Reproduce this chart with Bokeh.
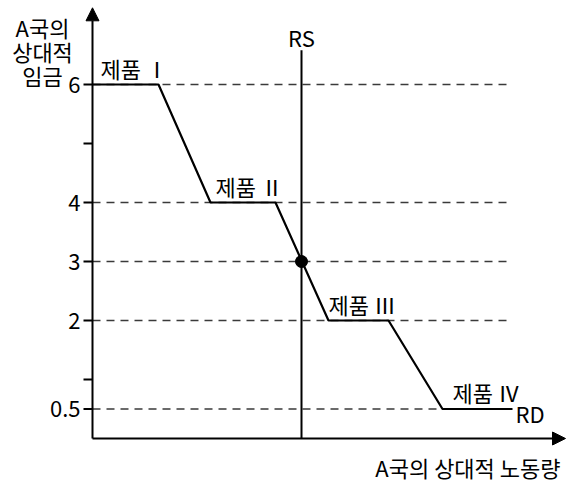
from bokeh.plotting import figure
from bokeh.models import Range1d, Arrow, NormalHead
from bokeh.core.properties import value
from bokeh.embed import file_html
from bokeh.resources import INLINE

# ---- data ----
rd_x = [0, 66, 118, 183, 236, 296, 350, 420]
rd_y = [6, 6, 4, 4, 2, 2, 0.5, 0.5]
rs_x = [209]
rs_top = [6.58]
eq_x = [209]
eq_y = [3]
dash_levels = [6, 4, 3, 2, 0.5]
dash_end = 420
y_ticks = [0.5, 1, 2, 3, 4, 5, 6]
y_tick_labels = ["0.5", "", "2", "3", "4", "", "6"]
product_names = ["제품 Ⅰ", "제품 Ⅱ", "제품 Ⅲ", "제품 Ⅳ"]
x_title = "A국의 상대적 노동량"
y_title = ["A국의", "상대적", "임금"]

FONT = value("Noto Sans CJK KR")
FS = value("22px")

W, H = 569, 485
ox, oy = 92, 438     # canvas position of origin
ppu = 59.0           # pixels per y unit

p = figure(width=W, height=H, output_backend="svg", toolbar_location=None,
           x_range=Range1d(-ox, W - ox), y_range=Range1d((oy - H) / ppu, oy / ppu),
           x_axis_location=None, y_axis_location=None,
           min_border=0)
p.outline_line_color = None
p.grid.visible = False
p.background_fill_color = "white"
p.border_fill_color = "white"

# dashed guide lines
n = len(dash_levels)
p.segment(x0=[0] * n, y0=dash_levels, x1=[dash_end] * n, y1=dash_levels,
          line_color="#3a3a3a", line_width=1.5, line_dash="8 6")

# y ticks and tick labels
p.segment(x0=[-9] * len(y_ticks), y0=y_ticks, x1=[0] * len(y_ticks), y1=y_ticks,
          line_color="black", line_width=2)
p.text(x=[-12] * len(y_ticks), y=y_ticks, text=y_tick_labels, text_font=FONT,
       text_font_size=FS, text_align="right", text_baseline="middle", text_color="black")

# RS vertical
p.segment(x0=rs_x, y0=[0], x1=rs_x, y1=rs_top, line_color="black", line_width=2)

# RD curve
p.line(rd_x, rd_y, line_color="black", line_width=2.2)

# equilibrium point
p.scatter(eq_x, eq_y, size=12, color="black")

# axes arrows
p.add_layout(Arrow(x_start=0, y_start=0, x_end=0, y_end=7.30, line_width=2,
                   end=NormalHead(size=13, fill_color="black", fill_alpha=1.0,
                                  line_color="black", line_width=1)))
p.add_layout(Arrow(x_start=0, y_start=0, x_end=473, y_end=0, line_width=2,
                   end=NormalHead(size=13, fill_color="black", fill_alpha=1.0,
                                  line_color="black", line_width=1)))

def lab(xs, ys, texts, align="left"):
    p.text(x=xs, y=ys, text=texts, text_font=FONT, text_font_size=FS,
           text_align=align, text_baseline="middle", text_color="black")

# product labels on the flat segments
offsets = [8, 5, 0, 10]
lab([rd_x[2 * i] + offsets[i] for i in range(4)],
    [rd_y[2 * i] + 0.28 for i in range(4)], product_names)

lab([rd_x[-1] + 3], [rd_y[-1] - 0.06], ["RD"])
lab(rs_x, [rs_top[0] + 0.22], ["RS"], "center")
lab([468], [-0.49], [x_title], "right")
lab([-50] * 3, [6.98 - k * 0.41 for k in range(3)], y_title, "center")

open("out.html", "w").write(file_html(p, INLINE))
